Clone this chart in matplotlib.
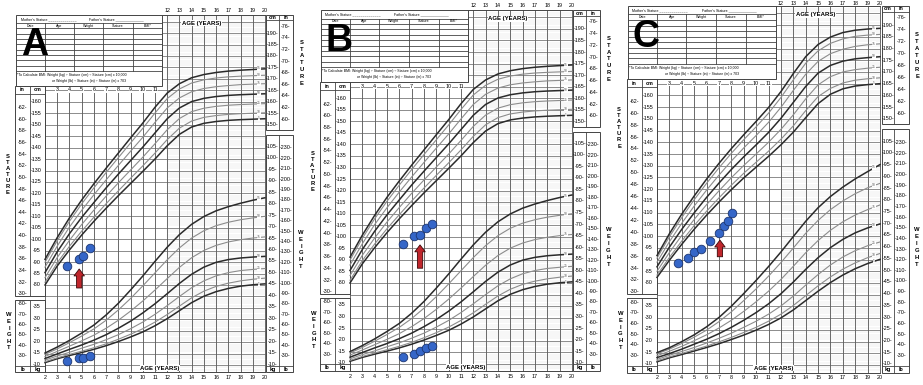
import numpy as np
import matplotlib.pyplot as plt
from matplotlib.patches import Rectangle

plt.rcParams['font.family'] = ['Liberation Sans', 'DejaVu Sans']

# ages of the printed percentile curves (years)
ages = np.arange(2, 21)
pcts = [5, 10, 25, 50, 75, 90, 95]

# CDC girls 2-20 y, stature (cm), rows = percentiles 5..95
girls_height = [
    [80.0, 88.3, 95.3, 101.8, 107.8, 113.5, 119.0, 124.3, 129.6, 135.0, 140.8, 145.8, 149.0, 150.6, 151.4, 151.9, 152.2, 152.4, 152.6],
    [81.2, 89.7, 96.9, 103.5, 109.6, 115.5, 121.1, 126.6, 132.0, 137.6, 143.5, 148.5, 151.6, 153.2, 154.0, 154.5, 154.8, 155.0, 155.2],
    [83.2, 92.0, 99.5, 106.4, 112.7, 118.8, 124.6, 130.2, 135.8, 141.7, 147.8, 152.7, 155.7, 157.2, 158.0, 158.5, 158.8, 159.0, 159.2],
    [85.4, 94.5, 102.4, 109.5, 116.0, 122.4, 128.4, 134.3, 140.2, 146.4, 152.6, 157.3, 160.1, 161.5, 162.3, 162.8, 163.1, 163.3, 163.5],
    [87.8, 97.0, 105.3, 112.6, 119.4, 125.9, 132.2, 138.4, 144.5, 151.0, 157.3, 161.7, 164.4, 165.8, 166.6, 167.1, 167.5, 167.7, 167.9],
    [89.9, 99.3, 107.8, 115.4, 122.4, 129.1, 135.6, 142.0, 148.4, 155.1, 161.4, 165.6, 168.2, 169.6, 170.4, 170.9, 171.2, 171.4, 171.6],
    [91.2, 100.7, 109.3, 117.1, 124.2, 131.0, 137.6, 144.2, 150.7, 157.6, 163.8, 167.9, 170.5, 171.9, 172.8, 173.4, 173.8, 174.1, 174.4],
]
# girls weight (kg)
girls_weight = [
    [10.6, 12.3, 13.7, 15.0, 16.4, 18.0, 19.8, 21.8, 24.0, 26.7, 29.8, 33.3, 36.8, 39.6, 41.6, 43.0, 44.0, 44.6, 45.0],
    [11.0, 12.7, 14.2, 15.6, 17.1, 18.8, 20.8, 23.0, 25.4, 28.3, 31.6, 35.3, 38.9, 41.8, 43.9, 45.3, 46.3, 47.0, 47.5],
    [11.7, 13.5, 15.1, 16.9, 18.6, 20.6, 22.8, 25.4, 28.3, 31.7, 35.5, 39.5, 43.3, 46.3, 48.5, 49.9, 50.8, 51.3, 51.7],
    [12.4, 14.4, 16.4, 18.3, 20.4, 22.8, 25.6, 28.7, 32.3, 36.3, 40.7, 45.2, 49.2, 52.3, 54.4, 55.6, 56.3, 56.7, 57.0],
    [13.3, 15.5, 17.8, 20.1, 22.6, 25.6, 29.1, 33.1, 37.5, 42.3, 47.3, 52.2, 56.4, 59.6, 61.8, 63.3, 64.3, 65.0, 65.5],
    [14.2, 16.6, 19.3, 22.2, 25.3, 29.1, 33.6, 38.6, 44.1, 49.8, 55.5, 60.7, 65.0, 68.2, 70.4, 71.9, 73.0, 73.8, 74.5],
    [14.8, 17.4, 20.3, 23.5, 27.0, 31.4, 36.5, 42.3, 48.4, 54.8, 61.0, 66.5, 71.0, 74.4, 76.9, 78.7, 80.2, 81.5, 82.6],
]
# boys stature (cm)
boys_height = [
    [82.4, 89.7, 96.5, 102.9, 108.9, 114.5, 119.8, 124.8, 129.4, 134.0, 138.9, 144.3, 150.5, 156.5, 160.5, 162.8, 164.0, 164.6, 165.0],
    [83.4, 90.9, 97.9, 104.5, 110.6, 116.3, 121.7, 126.8, 131.5, 136.2, 141.3, 147.0, 153.5, 159.5, 163.0, 165.3, 166.5, 167.1, 167.5],
    [85.0, 93.0, 100.3, 107.1, 113.4, 119.3, 124.9, 130.1, 135.0, 140.0, 145.5, 151.7, 158.5, 164.5, 168.0, 170.0, 171.0, 171.6, 172.0],
    [86.9, 95.3, 102.9, 109.9, 116.5, 122.6, 128.4, 133.8, 138.9, 144.2, 150.2, 157.0, 163.8, 169.5, 172.8, 174.6, 175.6, 176.1, 176.5],
    [88.9, 97.6, 105.5, 112.8, 119.6, 126.0, 132.0, 137.6, 142.9, 148.5, 154.9, 162.1, 169.0, 174.5, 177.8, 179.7, 180.9, 181.6, 182.0],
    [90.6, 99.7, 107.9, 115.5, 122.5, 129.1, 135.3, 141.1, 146.6, 152.4, 159.1, 166.6, 173.7, 179.0, 182.2, 184.1, 185.2, 185.7, 186.0],
    [91.7, 101.0, 109.4, 117.1, 124.3, 131.0, 137.3, 143.2, 148.9, 154.8, 161.6, 169.3, 176.5, 181.7, 184.9, 186.8, 187.8, 188.3, 188.6],
]
# boys weight (kg)
boys_weight = [
    [10.9, 12.6, 14.0, 15.5, 17.0, 18.6, 20.4, 22.3, 24.4, 26.8, 29.6, 33.0, 37.0, 41.0, 44.7, 47.9, 50.6, 52.8, 54.6],
    [11.3, 13.0, 14.5, 16.0, 17.6, 19.4, 21.3, 23.4, 25.6, 28.2, 31.2, 34.9, 39.1, 43.3, 47.1, 50.4, 53.1, 55.3, 57.1],
    [11.9, 13.7, 15.3, 17.0, 18.9, 20.9, 23.1, 25.6, 28.2, 31.2, 34.7, 38.9, 43.6, 48.1, 52.2, 55.6, 58.3, 60.4, 62.0],
    [12.7, 14.4, 16.3, 18.4, 20.5, 22.9, 25.6, 28.6, 31.9, 35.6, 39.9, 44.9, 50.3, 55.3, 59.6, 63.1, 65.9, 68.0, 69.7],
    [13.5, 15.4, 17.5, 19.9, 22.4, 25.3, 28.6, 32.4, 36.5, 41.0, 46.0, 51.6, 57.4, 62.6, 67.0, 70.6, 73.5, 75.8, 77.8],
    [14.3, 16.3, 18.7, 21.4, 24.4, 28.0, 32.2, 37.0, 42.0, 47.4, 53.2, 59.4, 65.7, 71.2, 75.8, 79.5, 82.6, 85.1, 87.0],
    [14.8, 16.9, 19.5, 22.4, 25.8, 29.8, 34.6, 40.0, 45.6, 51.5, 57.7, 64.3, 70.8, 76.6, 81.4, 85.4, 88.9, 92.0, 95.0],
]

# plotted patient measurements
a_age = [3.8, 4.8, 5.15, 5.7]
a_height = [88.4, 91.4, 92.8, 96.0]
a_weight = [11.3, 12.7, 12.7, 13.4]
a_arrow = (4.8, 78.7, 87.0)   # age, tail, tip (cm)

b_age = [6.27, 7.21, 7.68, 8.14, 8.63]
b_height = [96.9, 100.5, 100.8, 103.7, 105.4]
b_weight = [12.3, 13.8, 15.0, 16.5, 17.2]
b_arrow = (7.68, 86.4, 96.5)

c_age = [3.72, 4.48, 5.01, 5.55, 6.26, 7.03, 7.43, 7.75, 8.02]
c_height = [88.4, 90.5, 93.3, 94.5, 97.9, 101.2, 104.4, 106.6, 109.7]
c_arrow = (7.08, 91.2, 98.3)

WOFF = 35.5  # weight kg is printed at kg + WOFF on the shared cm scale
TOP = 198.0  # top edge of the grid
GRID = '#7a7a7a'
FS = 3.9


def box(ax, x0, x1, y0, y1, lw=0.7):
    ax.add_patch(Rectangle((x0, y0), x1 - x0, y1 - y0, fill=False, ec='#444444', lw=lw))


def vtext(ax, x, ytop, word, step):
    for i, ch in enumerate(word):
        ax.text(x, ytop - i * step, ch, fontsize=4.2, fontweight='bold', ha='center', va='center')


def draw_chart(ax, height, weight, letter, st_left, top_lab):
    # fine lines in the later-age zone
    for u in range(43, int(TOP)):
        if u % 5:
            ax.plot([12, 20], [u, u], color='#dcdcdc', lw=0.3, zorder=1)
    for u in range(45, int(TOP), 5):
        x0 = 2 if u <= 165 else 11.6
        ax.plot([x0, 20], [u, u], color=GRID, lw=0.6, zorder=1)
    for a in range(2, 21):
        top = TOP if a >= 12 else 166.9
        ax.plot([a, a], [41.8, top], color='#5f5f5f', lw=0.65, zorder=1)
    ax.plot([2, 20], [41.8, 41.8], color='#444444', lw=0.7)
    ax.plot([11.6, 20], [TOP, TOP], color='#444444', lw=0.7)

    # percentile curves
    for i, p in enumerate(pcts):
        dark = p in (5, 50, 95)
        col = '#2b2b2b' if dark else '#8c8c8c'
        lw = 1.1 if dark else 0.8
        h = np.array(height[i])
        w = np.array(weight[i]) + WOFF
        ax.plot(ages, h, color=col, lw=lw, zorder=3)
        ax.plot(ages, w, color=col, lw=lw, zorder=3)
        for arr in (h, w):
            ax.text(19.5, (arr[-1] + arr[-2]) / 2 + 0.3, str(p), fontsize=2.4, color='#555555',
                    ha='center', va='center', zorder=4,
                    bbox=dict(fc='white', ec='none', pad=0.2))

    # header table
    tl, tr, tb, tt = -0.37, 11.6, 166.9, TOP
    box(ax, tl, tr, tb, tt)
    rows = np.linspace(192.1, 173.4, 9)
    ax.plot([tl, tr], [194.5, 194.5], color='#444444', lw=0.6)
    for r in rows:
        ax.plot([tl, tr], [r, r], color='#444444', lw=0.6)
    cols = [2.0, 4.37, 6.75, 9.2]
    for c in cols:
        ax.plot([c, c], [173.4, 194.5], color='#444444', lw=0.6)
    ax.text(0.0, 196.2, "Mother's Stature ______________", fontsize=2.6, va='center')
    ax.text(5.6, 196.2, "Father's Stature ______________", fontsize=2.6, va='center')
    edges = [tl] + cols + [tr]
    for k, lab in enumerate(['Date', 'Age', 'Weight', 'Stature', 'BMI*']):
        ax.text((edges[k] + edges[k + 1]) / 2, 193.3, lab, fontsize=2.6, ha='center', va='center')
    ax.text(tl + 0.1, 171.8, "*To Calculate BMI: Weight (kg) \u00f7 Stature (cm) \u00f7 Stature (cm) x 10,000",
            fontsize=2.5, va='center')
    ax.text(5.6, 169.2, "or Weight (lb) \u00f7 Stature (in) \u00f7 Stature (in) x 703",
            fontsize=2.5, va='center', ha='center')
    ax.text(1.15, 184.8, letter, fontsize=27, fontweight='bold', ha='center', va='center', zorder=6)

    # left scale columns
    box(ax, -0.45, 2.0, 75.2, 166.9)
    ax.plot([0.77, 0.77], [75.2, 166.9], color='#444444', lw=0.6)
    ax.plot([-0.45, 2.0], [163.5, 163.5], color='#444444', lw=0.6)
    ax.text(0.16, 165.2, 'in', fontsize=FS, fontweight='bold', ha='center', va='center')
    ax.text(1.38, 165.2, 'cm', fontsize=FS, fontweight='bold', ha='center', va='center')
    for v in range(30, 63, 2):
        ax.text(0.16, v * 2.54, f'-{v}-', fontsize=FS, ha='center', va='center')
    for v in range(80, 161, 5):
        ax.text(1.3, v, f'-{v}', fontsize=FS, ha='center', va='center')
    box(ax, -0.45, 2.0, 41.8, 73.4)
    ax.plot([0.77, 0.77], [41.8, 73.4], color='#444444', lw=0.6)
    ax.plot([-0.45, 2.0], [44.8, 44.8], color='#444444', lw=0.6)
    ax.text(0.16, 43.3, 'lb', fontsize=FS, fontweight='bold', ha='center', va='center')
    ax.text(1.38, 43.3, 'kg', fontsize=FS, fontweight='bold', ha='center', va='center')
    for v in range(30, 81, 10):
        ax.text(0.16, v * 0.4536 + WOFF, f'-{v}-', fontsize=FS, ha='center', va='center')
    for v in range(10, 36, 5):
        ax.text(1.3, v + WOFF, f'-{v}', fontsize=FS, ha='center', va='center')

    # right scale columns
    box(ax, 20.12, 22.3, 147.7, TOP)
    ax.plot([21.15, 21.15], [147.7, TOP], color='#444444', lw=0.6)
    ax.plot([20.12, 22.3], [195.6, 195.6], color='#444444', lw=0.6)
    ax.text(20.64, 196.85, 'cm', fontsize=FS, fontweight='bold', ha='center', va='center')
    ax.text(21.72, 196.85, 'in', fontsize=FS, fontweight='bold', ha='center', va='center')
    for v in range(150, 191, 5):
        ax.text(20.62, v, f'-{v}-', fontsize=FS, ha='center', va='center')
    for v in range(60, 77, 2):
        ax.text(21.72, v * 2.54, f'-{v}-', fontsize=FS, ha='center', va='center')
    box(ax, 20.12, 22.3, 41.8, 145.5)
    ax.plot([21.15, 21.15], [41.8, 145.5], color='#444444', lw=0.6)
    ax.plot([20.12, 22.3], [44.8, 44.8], color='#444444', lw=0.6)
    ax.text(20.64, 43.3, 'kg', fontsize=FS, fontweight='bold', ha='center', va='center')
    ax.text(21.72, 43.3, 'lb', fontsize=FS, fontweight='bold', ha='center', va='center')
    for v in range(10, 106, 5):
        ax.text(20.62, v + WOFF, f'-{v}-', fontsize=FS, ha='center', va='center')
    for v in range(30, 231, 10):
        ax.text(21.72, v * 0.4536 + WOFF, f'-{v}-', fontsize=FS, ha='center', va='center')

    # age labels
    for a in range(3, 12):
        ax.text(a, 165.2, str(a), fontsize=FS, ha='center', va='center',
                bbox=dict(fc='white', ec='none', pad=0.3))
    for a in range(12, 21):
        ax.text(a, top_lab, str(a), fontsize=FS, ha='center', va='center')
    for a in range(2, 21):
        ax.text(a, 39.6, str(a), fontsize=FS, ha='center', va='center')
    ax.text(14.8, 194.4, 'AGE (YEARS)', fontsize=4.3, fontweight='bold', ha='center', va='center',
            bbox=dict(fc='white', ec='none', pad=0.4))
    ax.text(11.4, 43.6, 'AGE (YEARS)', fontsize=4.3, fontweight='bold', ha='center', va='center',
            bbox=dict(fc='white', ec='none', pad=0.4))

    vtext(ax, -1.05, st_left, 'STATURE', 2.6)
    vtext(ax, -0.95, 67.0, 'WEIGHT', 2.9)
    vtext(ax, 23.0, 186.0, 'STATURE', 3.0)
    vtext(ax, 22.95, 103.0, 'WEIGHT', 3.0)


def add_points(ax, age, height, weight, arrow):
    kw = dict(ls='none', marker='o', ms=6.2, mfc='#3566c8', mec='#1c3570', mew=0.6, zorder=8)
    ax.plot(age, height, **kw)
    if weight is not None:
        ax.plot(age, np.array(weight) + WOFF, **kw)
    x, tail, tip = arrow
    ax.annotate('', xy=(x, tip), xytext=(x, tail), zorder=9,
                arrowprops=dict(arrowstyle='simple,head_width=0.75,head_length=0.5,tail_width=0.38',
                                fc='#c0262c', ec='#3a0808', lw=0.6, shrinkA=0, shrinkB=0,
                                mutation_scale=10))


W, H = 923, 385
fig = plt.figure(figsize=(W / 100, H / 100), dpi=100)
fig.patch.set_facecolor('white')

# panel placement in pixels: left, width, x of age 2, px per year, y of 80 cm, px per cm
panels = [
    (0, 305, 45, 12.22, 285, 2.29),
    (305, 310, 45, 12.33, 283, 2.31),
    (615, 308, 42, 12.39, 283, 2.345),
]
axes = []
tops = []
for left, width, x2, ppy, y80, ppc in panels:
    ax = fig.add_axes([left / W, 0, width / W, 1])
    ax.set_xlim(2 - x2 / ppy, 2 + (width - x2) / ppy)
    ymax = 80 + y80 / ppc
    ax.set_ylim(80 - (H - y80) / ppc, ymax)
    ax.axis('off')
    axes.append(ax)
    tops.append(min(200.0, ymax - 1.4))

draw_chart(axes[0], girls_height, girls_weight, 'A', 136.0, tops[0])
add_points(axes[0], a_age, a_height, a_weight, a_arrow)
draw_chart(axes[1], girls_height, girls_weight, 'B', 136.0, tops[1])
add_points(axes[1], b_age, b_height, b_weight, b_arrow)
draw_chart(axes[2], boys_height, boys_weight, 'C', 154.0, tops[2])
add_points(axes[2], c_age, c_height, None, c_arrow)

fig.savefig('out.png', dpi=100, facecolor='white')
